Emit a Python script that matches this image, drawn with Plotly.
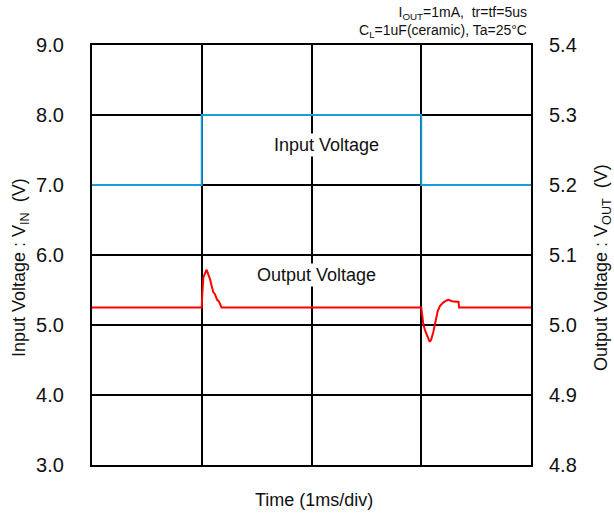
import plotly.graph_objects as go

# input step (ms, V)
t_in = [0, 1.0, 1.0, 3.0, 3.0, 4.0]
v_in = [7.0, 7.0, 8.0, 8.0, 7.0, 7.0]

# output response (ms, V)
t_out = [0, 1.0, 1.005, 1.015, 1.03, 1.045, 1.06, 1.075, 1.09, 1.105, 1.12, 1.14,
         1.155, 1.17, 1.18, 3.0, 3.008, 3.02, 3.04, 3.06, 3.077, 3.09, 3.11, 3.13,
         3.15, 3.17, 3.2, 3.23, 3.25, 3.28, 3.31, 3.34, 3.345, 4.0]
v_out = [5.025, 5.025, 5.045, 5.068, 5.074, 5.079, 5.072, 5.066, 5.056, 5.047, 5.044,
         5.036, 5.034, 5.029, 5.025, 5.025, 5.017, 5.0, 4.99, 4.982, 4.976, 4.979,
         4.99, 5.005, 5.02, 5.027, 5.032, 5.035, 5.036, 5.034, 5.034, 5.033, 5.025, 5.025]

font = "Arial, Liberation Sans, sans-serif"

fig = go.Figure()
fig.add_trace(go.Scatter(x=t_in, y=v_in, mode="lines",
                         line=dict(color="#1a9ed9", width=2), yaxis="y"))
fig.add_trace(go.Scatter(x=t_out, y=v_out, mode="lines",
                         line=dict(color="#ff0000", width=2), yaxis="y2"))

fig.update_layout(
    width=614, height=513,
    margin=dict(l=92, r=83, t=45, b=48),
    plot_bgcolor="white", paper_bgcolor="white",
    showlegend=False,
    font=dict(family=font, size=18, color="#111111"),
    xaxis=dict(range=[0, 4], dtick=1, showticklabels=False, ticks="",
               showgrid=True, gridcolor="black", gridwidth=1.8,
               showline=True, linecolor="black", linewidth=2.2, mirror=True,
               zeroline=False, fixedrange=True),
    yaxis=dict(range=[3, 9], dtick=1, tickformat=".1f", ticks="",
               ticklabelstandoff=22,
               showgrid=True, gridcolor="black", gridwidth=1.8,
               showline=True, linecolor="black", linewidth=2.2, mirror=True,
               zeroline=False, tickfont=dict(size=20)),
    yaxis2=dict(range=[4.8, 5.4], dtick=0.1, tickformat=".1f", ticks="",
                ticklabelstandoff=17,
                overlaying="y", side="right", showgrid=False, zeroline=False,
                tickfont=dict(size=20)),
)

fig.add_annotation(text="Input Voltage", x=2.135, y=7.571, xref="x", yref="y",
                   showarrow=False, bgcolor="white", font=dict(size=18))
fig.add_annotation(text="Output Voltage", x=2.05, y=5.714, xref="x", yref="y",
                   showarrow=False, bgcolor="white", font=dict(size=18))

# axis titles
fig.add_annotation(text="Input Voltage : V<sub>IN</sub>  (V)", textangle=-90,
                   x=0, y=0.469, xref="paper", yref="paper", xshift=-72,
                   xanchor="center", yanchor="middle",
                   showarrow=False, font=dict(size=18))
fig.add_annotation(text="Output Voltage : V<sub>OUT</sub>  (V)", textangle=-90,
                   x=1, y=0.469, xref="paper", yref="paper", xshift=71,
                   xanchor="center", yanchor="middle",
                   showarrow=False, font=dict(size=18))
fig.add_annotation(text="Time (1ms/div)", x=0.505, y=0, xref="paper", yref="paper",
                   xanchor="center", yanchor="middle", yshift=-35,
                   showarrow=False, font=dict(size=18))

# conditions
fig.add_annotation(text="I<sub>OUT</sub>=1mA,  tr=tf=5us<br>C<sub>L</sub>=1uF(ceramic), Ta=25°C",
                   x=1, y=1, xref="paper", yref="paper", xanchor="right", yanchor="bottom",
                   xshift=-2, yshift=3, align="right", showarrow=False, font=dict(size=14))

fig.write_html("out.html", config={"displayModeBar": False},
               post_script="document.body.style.margin='0';")
